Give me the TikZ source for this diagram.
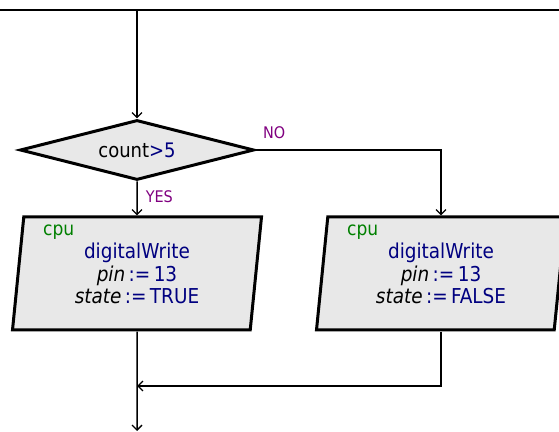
\documentclass[tikz,border=0pt]{standalone}
\usepackage{fontspec}
\setmainfont{DejaVu Sans Condensed}
\usepackage{xcolor}
\usetikzlibrary{
  arrows.meta,
  positioning,
  shapes.geometric,
  calc
}
\definecolor{BoxGray}{HTML}{E8E8E8}
\definecolor{ValBlue}{HTML}{000080}
\definecolor{TagGreen}{HTML}{008000}
\definecolor{BranchPurple}{HTML}{800080}
\tikzset{
  decision/.style={
    diamond,
    aspect=3.9,
    draw,
    line width=3pt,
    fill=BoxGray,
    inner sep=0pt,
    minimum width=234pt,
    minimum height=60pt,
    font=\fontsize{20}{22}\selectfont
  },
  call/.style={
    trapezium,
    trapezium left angle=79.5,
    trapezium right angle=100.5,
    trapezium stretches body,
    draw,
    line width=3pt,
    fill=BoxGray,
    align=center,
    inner sep=0pt,
    minimum width=249pt,
    minimum height=113pt,
    font=\fontsize{20.5}{22.5}\selectfont
  },
  tag/.style={
    text=TagGreen,
    inner sep=0pt,
    anchor=west,
    font=\fontsize{19}{21}\selectfont
  },
  branch/.style={
    text=BranchPurple,
    inner sep=0pt,
    font=\fontsize{16}{18}\selectfont
  },
  flow/.style={
    -{Straight Barb[length=5pt,width=10pt,line width=1.3pt]},
    line width=1.5pt
  }
}
\newcommand{\val}[1]{\textcolor{ValBlue}{#1}}

\begin{document}
\begin{tikzpicture}[x=1pt,y=1pt]
  \useasboundingbox (0,0) rectangle (559,431);

  \coordinate (railL) at (0,421);
  \coordinate (railR) at (559,421);
  \coordinate (entry) at (137,421);
  \coordinate (merge) at (137,45);
  \coordinate (exit) at (137,0);

  \draw[line width=2.5pt] (railL) -- (railR);

  \node[
    decision
  ] (test) at (137,281) {
    count\val{>5}
  };

  \node[
    call
  ] (writeHigh) at (137,157.5) {
    \val{digitalWrite}\\
    \textit{pin}\,\val{:=\,13}\\
    \textit{state}\,\val{:=\,TRUE}
  };

  \node[
    call
  ] (writeLow) at (441,157.5) {
    \val{digitalWrite}\\
    \textit{pin}\,\val{:=\,13}\\
    \textit{state}\,\val{:=\,FALSE}
  };

  \node[tag] (cpuHigh) at (43,199) {cpu};
  \node[tag] (cpuLow) at (347,199) {cpu};

  \draw[flow] (entry) -- (test.north);

  \draw[flow]
  (test.south) --
  node[
    branch,
    pos=0.45,
    right=8pt
  ] {
    YES
  }
  (writeHigh.north);

  \draw[flow]
  (test.east) -|
  node[
    branch,
    pos=0.05,
    above=11pt
  ] {
    NO
  }
  (writeLow.north);

  \draw[flow] (writeHigh.south) -- (exit);
  \draw[flow] (writeLow.south) |- (merge);

\end{tikzpicture}
\end{document}
